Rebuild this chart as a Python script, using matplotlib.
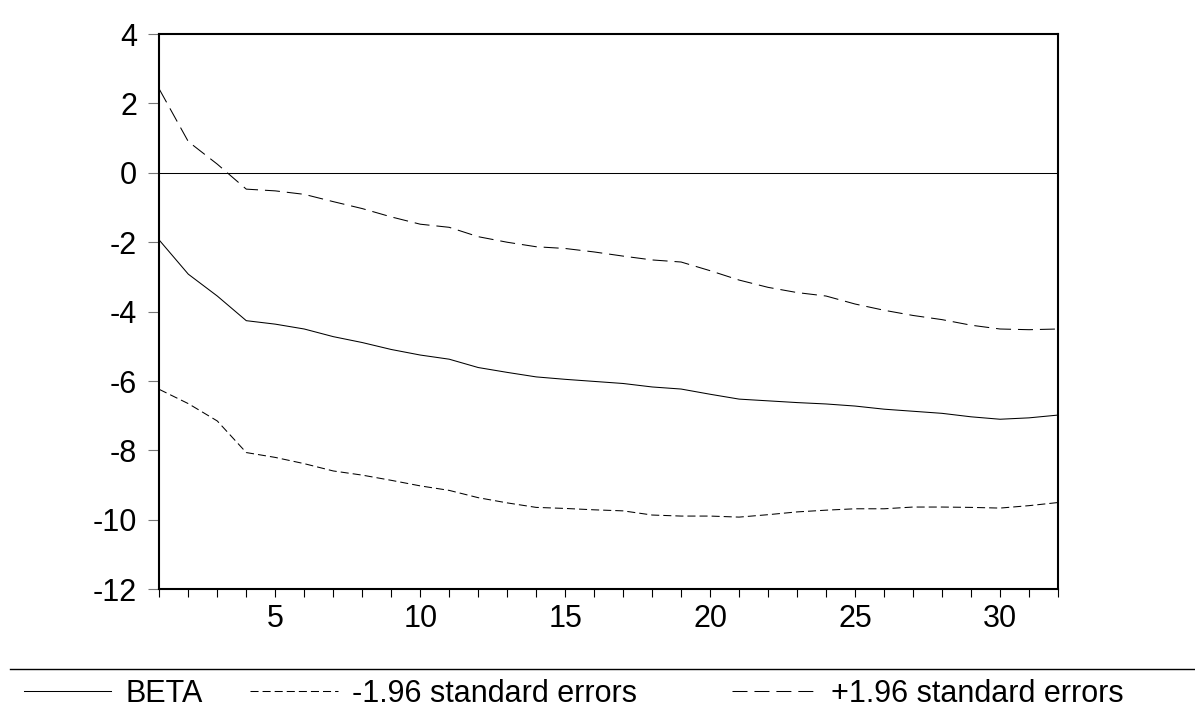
import matplotlib
matplotlib.use("Agg")
import matplotlib.pyplot as plt
from matplotlib.lines import Line2D
from matplotlib.ticker import MultipleLocator

plt.rcParams['font.family'] = ['Liberation Sans', 'DejaVu Sans']
plt.rcParams['lines.scale_dashes'] = False
plt.rcParams['axes.unicode_minus'] = False

periods = list(range(1, 33))
beta = [-1.94, -2.92, -3.55, -4.26, -4.36, -4.50, -4.72, -4.89, -5.09, -5.25,
        -5.37, -5.61, -5.75, -5.88, -5.95, -6.01, -6.07, -6.17, -6.23, -6.38,
        -6.52, -6.57, -6.62, -6.66, -6.72, -6.81, -6.87, -6.93, -7.03, -7.10,
        -7.06, -6.98]
lower = [-6.24, -6.65, -7.15, -8.06, -8.20, -8.38, -8.59, -8.71, -8.86, -9.02,
         -9.15, -9.36, -9.51, -9.64, -9.67, -9.71, -9.74, -9.86, -9.89, -9.89,
         -9.92, -9.85, -9.77, -9.72, -9.68, -9.68, -9.63, -9.63, -9.64, -9.66,
         -9.59, -9.50]
upper = [2.41, 0.90, 0.25, -0.47, -0.52, -0.62, -0.83, -1.03, -1.27, -1.48,
         -1.57, -1.84, -2.00, -2.13, -2.18, -2.28, -2.40, -2.51, -2.57, -2.82,
         -3.09, -3.30, -3.45, -3.55, -3.78, -3.96, -4.11, -4.23, -4.39, -4.50,
         -4.52, -4.50]
labels = ["BETA", "-1.96 standard errors", "+1.96 standard errors"]

W, H = 1195, 711
fig = plt.figure(figsize=(W / 100, H / 100), dpi=100)
ax = fig.add_axes([159.3 / W, 1 - 589.3 / H, (1058 - 159.3) / W, (589.3 - 34) / H])

lw = 0.75
h1, = ax.plot(periods, beta, color='black', lw=lw, solid_joinstyle='miter')
h2, = ax.plot(periods, lower, color='black', lw=lw, linestyle=(0, (5.8, 2.9)))
h3, = ax.plot(periods, upper, color='black', lw=lw, linestyle=(0, (10.8, 5.0)))
ax.axhline(0, color='black', lw=0.75)

ax.set_xlim(1, 32)
ax.set_ylim(-12, 4)
ax.xaxis.set_major_locator(MultipleLocator(5))
ax.xaxis.set_minor_locator(MultipleLocator(1))
ax.yaxis.set_major_locator(MultipleLocator(2))

for s in ax.spines.values():
    s.set_linewidth(1.5)

ax.tick_params(axis='y', which='major', direction='out', length=8, width=0.8,
               color='#777777', labelsize=22, pad=8)
ax.tick_params(axis='x', which='both', direction='out', length=5.5, width=0.8,
               color='black', labelsize=22, pad=5)

# separator line above legend
fig.add_artist(Line2D([10 / W, 1.0], [1 - 669 / H, 1 - 669 / H], color='black', lw=1.0))

fs = 22
em = fs * 100 / 72.0
anchors = [24, 250, 732]
hlens = [87, 88, 85]
for h, lab, xa, hl in zip([h1, h2, h3], labels, anchors, hlens):
    fig.legend(handles=[h], labels=[lab], loc='center left',
               bbox_to_anchor=(xa / W, 1 - 694 / H), frameon=False,
               borderpad=0, borderaxespad=0, fontsize=fs,
               handlelength=hl / em, handletextpad=14 / em)

fig.savefig("out.png", dpi=100)
